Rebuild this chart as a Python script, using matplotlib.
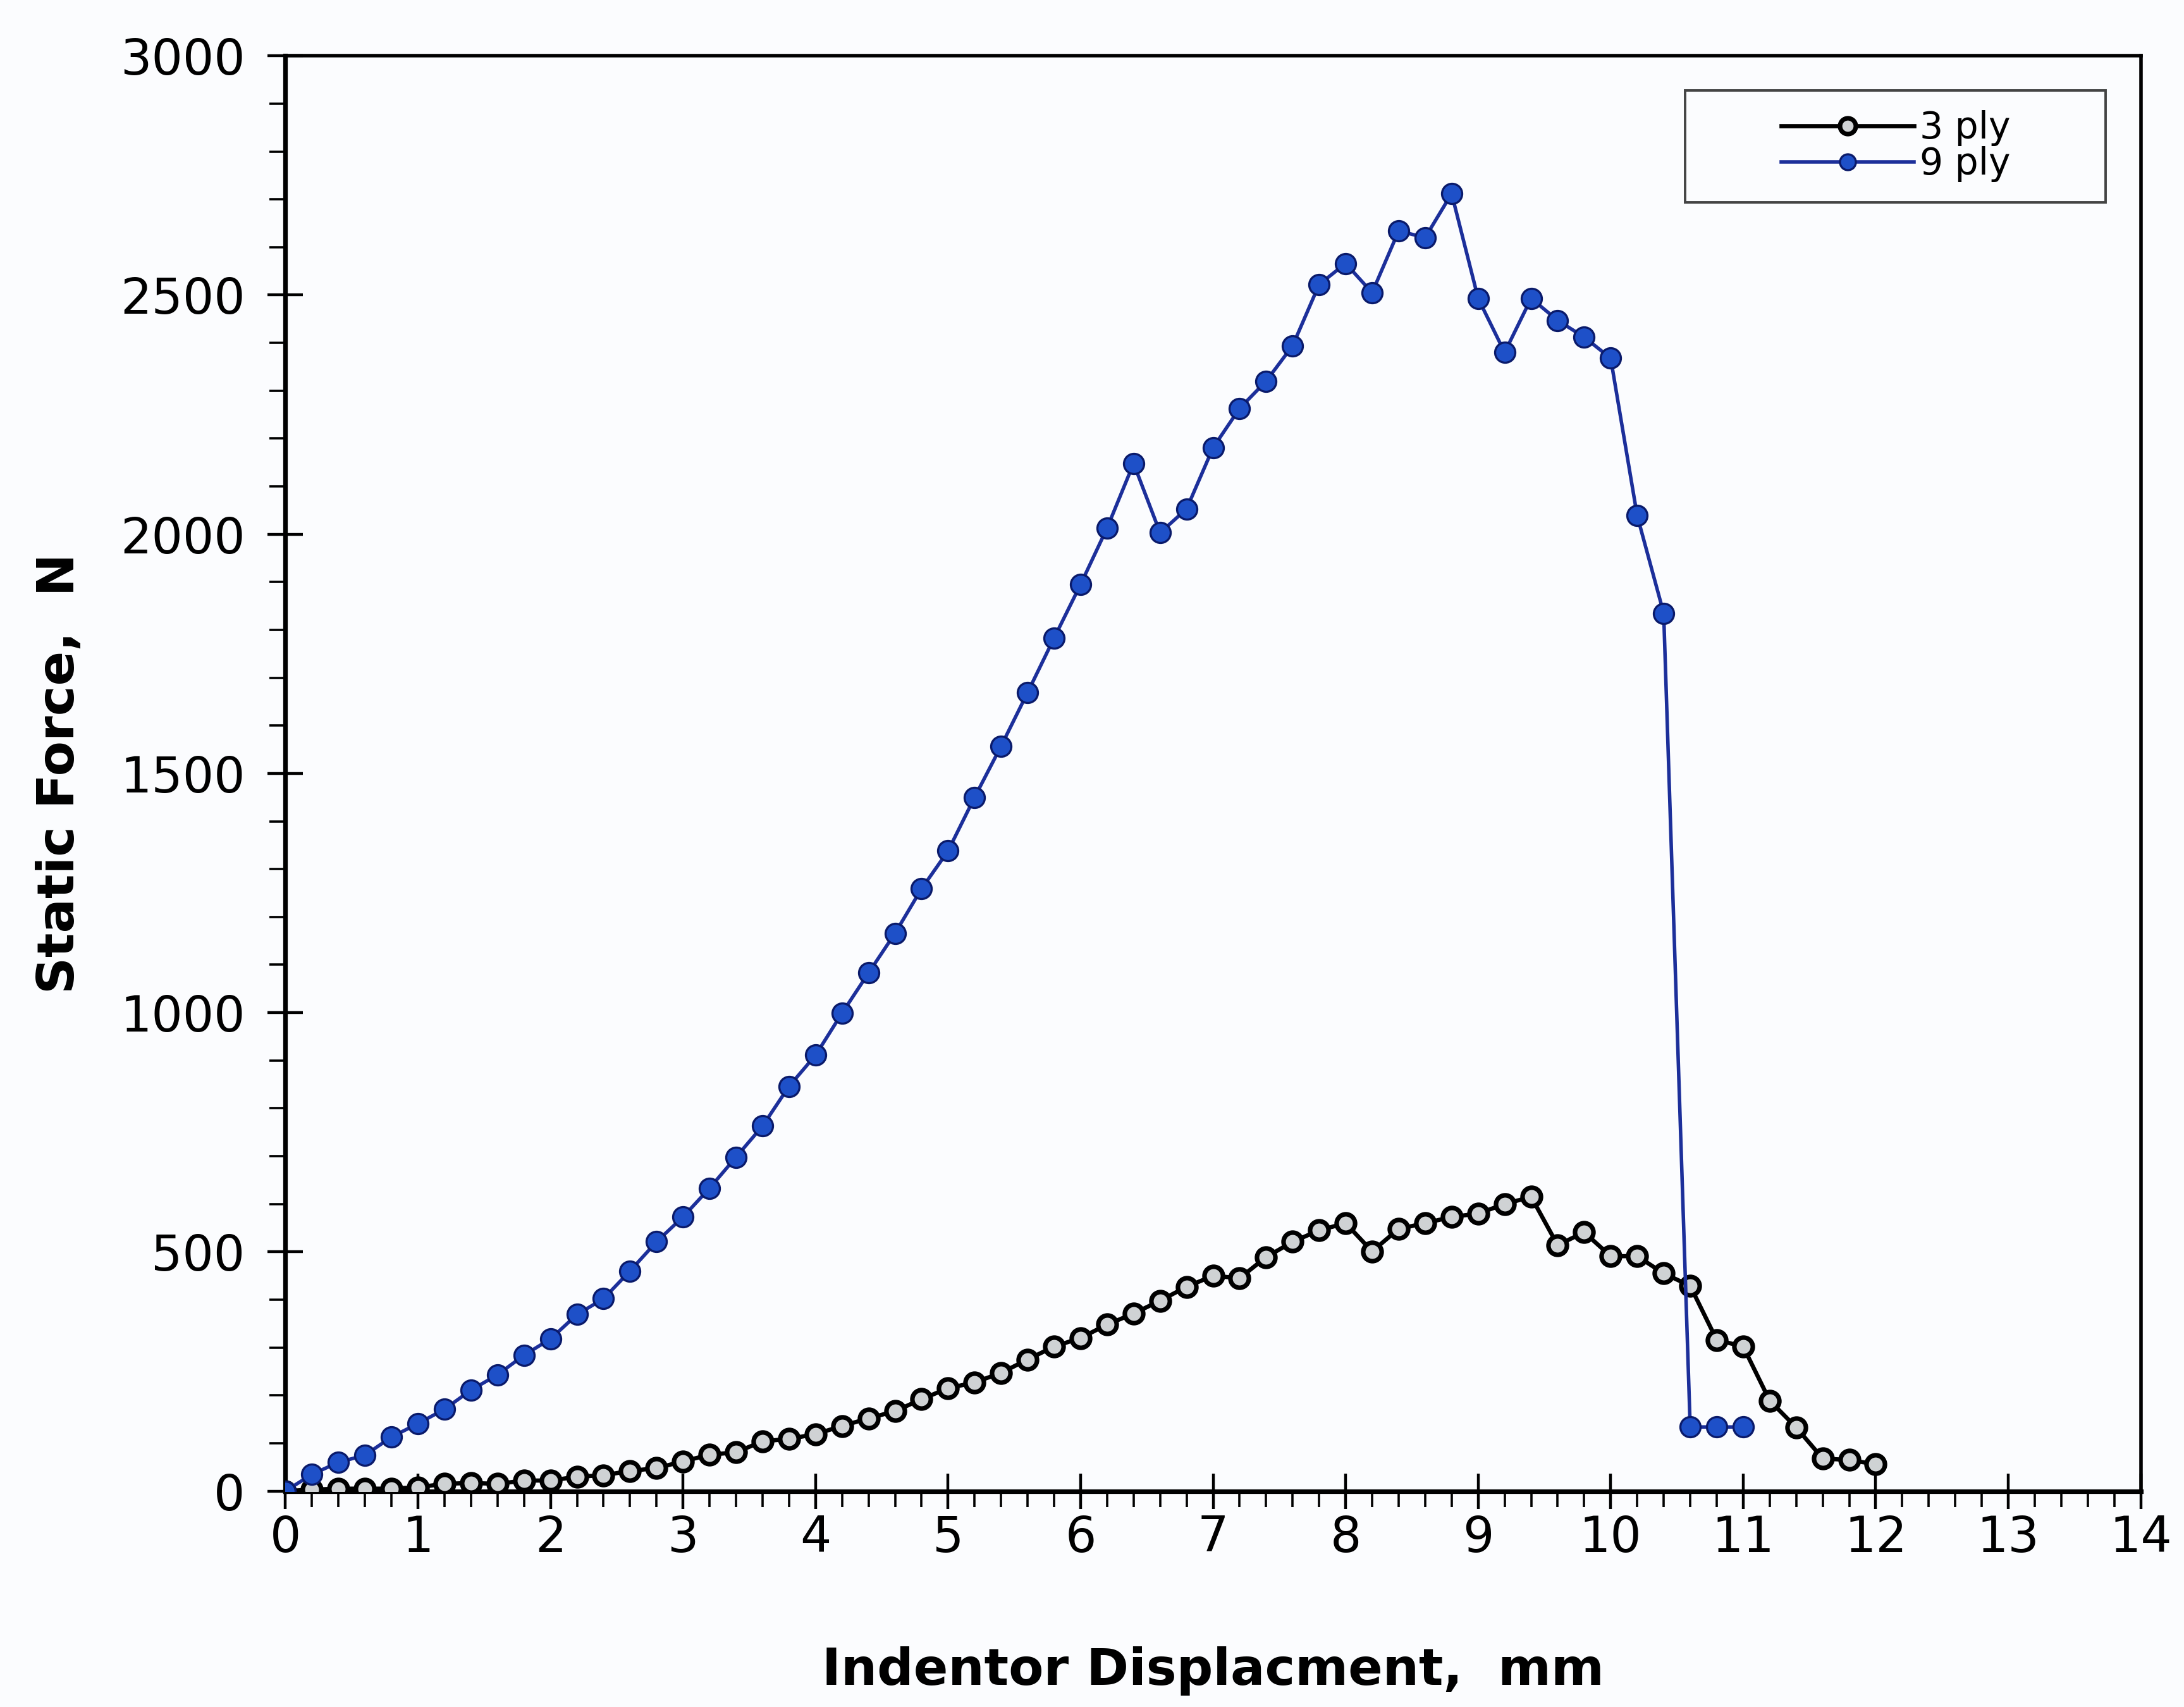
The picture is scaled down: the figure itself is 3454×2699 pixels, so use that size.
import numpy as np
import matplotlib
matplotlib.use('Agg')
import matplotlib.pyplot as plt
from matplotlib.patches import Rectangle
from matplotlib.ticker import MultipleLocator

plt.rcParams['font.family'] = ['DejaVu Sans']

# displacement sampled every 0.2 mm
x_3ply = np.round(np.arange(0, 61) * 0.2, 1)
f_3ply = [0, 3, 5, 5, 5, 8, 15, 17, 15, 22,
          22, 30, 33, 42, 48, 62, 76, 81, 104, 109,
          119, 136, 152, 167, 192, 215, 227, 247, 275, 302,
          320, 348, 371, 398, 427, 450, 445, 489, 521, 545,
          560, 501, 548, 560, 573, 580, 600, 615, 514, 541,
          491, 491, 455, 429, 316, 302, 189, 133, 68, 65,
          56]

x_9ply = np.round(np.arange(0, 56) * 0.2, 1)
f_9ply = [0, 35, 60, 75, 113, 141, 171, 211, 243, 284,
          318, 369, 402, 460, 521, 573, 633, 698, 763, 846,
          911, 999, 1083, 1166, 1259, 1338, 1450, 1557, 1669, 1783,
          1895, 2013, 2148, 2003, 2053, 2181, 2263, 2320, 2394, 2522,
          2566, 2505, 2634, 2620, 2712, 2493, 2380, 2493, 2447, 2412,
          2368, 2039, 1835, 134, 134, 134]

bg = '#fbfcfe'
fig = plt.figure(figsize=(17.27, 13.495), dpi=200, facecolor=bg)
ax = fig.add_axes([0.1307, 0.1265, 0.8495, 0.8408], facecolor=bg)

l3, = ax.plot(x_3ply, f_3ply, color='black', lw=2.4, marker='o', ms=10.5,
              mfc='#cfd2d4', mec='black', mew=2.6, label='3 ply', zorder=3)
l9, = ax.plot(x_9ply, f_9ply, color='#1c2f9a', lw=2.0, marker='o', ms=11.5,
              mfc='#1e50c8', mec='#0a1a6a', mew=1.2, label='9 ply', zorder=4)

ax.set_xlim(0, 14)
ax.set_ylim(0, 3000)
ax.xaxis.set_major_locator(MultipleLocator(1))
ax.xaxis.set_minor_locator(MultipleLocator(0.2))
ax.yaxis.set_major_locator(MultipleLocator(500))
ax.yaxis.set_minor_locator(MultipleLocator(100))
ax.tick_params(which='major', direction='inout', length=20, width=1.6,
               labelsize=28, color='black')
ax.tick_params(which='minor', direction='out', length=9, width=1.3)
ax.tick_params(axis='y', which='major', pad=13)
ax.tick_params(axis='x', which='major', pad=3)
for side in ['left', 'bottom']:
    ax.spines[side].set_linewidth(2.6)
for side in ['top', 'right']:
    ax.spines[side].set_linewidth(2.0)

ax.set_xlabel('Indentor Displacment,  mm', fontsize=29, fontweight='bold', labelpad=48)
ax.set_ylabel('Static Force,  N', fontsize=29, fontweight='bold', labelpad=20)

# legend box
ax.add_patch(Rectangle((0.7545, 0.898), 0.2267, 0.0777, transform=ax.transAxes,
                       facecolor=bg, edgecolor='#444444', lw=1.4, zorder=5))
leg = ax.legend(handles=[l3, l9], loc='center', bbox_to_anchor=(0.868, 0.937),
                frameon=False, fontsize=21, handlelength=3.6, handletextpad=0.15,
                labelspacing=0.0, borderpad=0.1)
leg.set_zorder(6)
for h in leg.legend_handles:
    h.set_markersize(9)

fig.savefig('out.png', dpi=200, facecolor=bg)
